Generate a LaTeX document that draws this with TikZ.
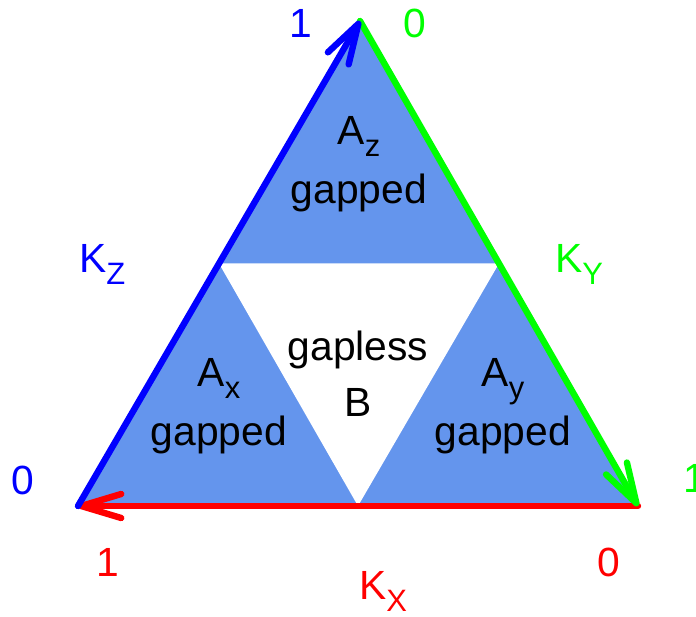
\documentclass[tikz,border=0pt]{standalone}
\usepackage{fontspec}
\setmainfont{Liberation Sans}
\usetikzlibrary{arrows.meta,calc}
\definecolor{gapblue}{RGB}{100,149,237}
\definecolor{kzblue}{RGB}{0,0,255}
\definecolor{kygreen}{RGB}{0,255,0}
\definecolor{kxred}{RGB}{255,0,0}
\newcommand{\sbs}[1]{\raisebox{-0.29em}{\fontsize{22}{22}\selectfont #1}}

\begin{document}
\begin{tikzpicture}[x=0.025cm,y=0.025cm,font=\fontsize{29}{40}\selectfont,
    edge/.style={line width=0.16cm, line cap=round, line join=round,
      -{Straight Barb[length=1cm,width=0.6cm,round]}},
    lbl/.style={inner sep=0pt},
    txt/.style={align=center, inner sep=0pt}]
  \useasboundingbox (0,0) rectangle (696,617);
  % ---------- corners ----------
  \coordinate (bl) at (78,111);
  \coordinate (br) at (638,111);
  \coordinate (tp) at (360,596);
  \coordinate (ml) at ($(bl)!0.5!(tp)$);
  \coordinate (mr) at ($(br)!0.5!(tp)$);
  \coordinate (mb) at ($(bl)!0.5!(br)$);
  % ---------- regions ----------
  \fill[gapblue] (bl) -- (br) -- (tp) -- cycle;
  \fill[white] (ml) -- (mr) -- (mb) -- cycle;
  \node[txt] (az) at (359,453) {A\sbs{z}\\[2pt]gapped};
  \node[txt] (ax) at (219,211) {A\sbs{x}\\[2pt]gapped};
  \node[txt] (ay) at (503,211) {A\sbs{y}\\[2pt]gapped};
  \node[txt] (gb) at (358,243) {gapless\\B};
  % ---------- axes ----------
  \draw[edge, kxred] (br) -- (bl);
  \draw[edge, kygreen] (tp) -- (br);
  \draw[edge, kzblue] (bl) -- (tp);
  % ---------- ends ----------
  \node[lbl, text=kzblue] (z1) at (301,594) {1};
  \node[lbl, text=kzblue] (z0) at (23,137) {0};
  \node[lbl, text=kygreen] (y0) at (415,594) {0};
  \node[lbl, text=kygreen, anchor=west] (y1) at (683,139) {1};
  \node[lbl, text=kxred] (x1) at (108,55) {1};
  \node[lbl, text=kxred] (x0) at (609,55) {0};
  % ---------- axis names ----------
  \node[lbl, text=kzblue, anchor=base west] (kz) at (79,344) {K\sbs{Z}};
  \node[lbl, text=kygreen, anchor=base west] (ky) at (555,344) {K\sbs{Y}};
  \node[lbl, text=kxred, anchor=base west] (kx) at (359,17) {K\sbs{X}};
\end{tikzpicture}
\end{document}
